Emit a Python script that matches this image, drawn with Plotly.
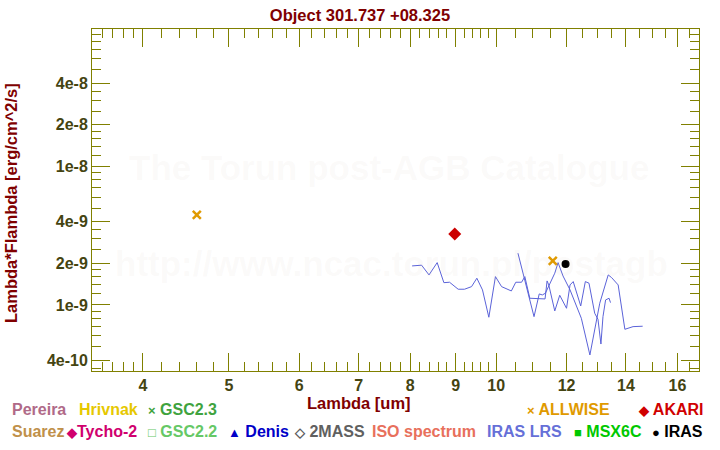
import math
import plotly.graph_objects as go

# ---------------- data ----------------
title_text = "Object 301.737 +08.325"

allwise_wl = [4.60, 11.58]
allwise_flux = [4.47e-9, 2.08e-9]

akari_wl = [8.98]
akari_flux = [3.26e-9]

iras_wl = [11.97]
iras_flux = [1.98e-9]

# IRAS LRS spectrum, blue band
lrs_blue_wl = [8.04, 8.20, 8.24, 8.40, 8.58, 8.73, 8.86, 9.06, 9.21, 9.38, 9.51, 9.65, 9.81,
               9.98, 10.14, 10.40, 10.52, 10.68, 10.77, 10.91, 11.35, 11.41, 11.46, 11.64,
               11.79, 12.00, 12.11, 12.21, 12.29, 12.45, 12.60, 12.72, 12.91, 13.02, 13.12,
               13.19, 13.28, 13.40, 13.45]
lrs_blue_flux = [1.914e-9, 1.947e-9, 1.937e-9, 1.648e-9, 2.022e-9, 1.449e-9, 1.459e-9, 1.299e-9,
                 1.299e-9, 1.356e-9, 1.560e-9, 1.284e-9, 8.15e-10, 1.602e-9, 1.356e-9, 1.262e-9,
                 1.459e-9, 1.459e-9, 1.602e-9, 1.118e-9, 1.105e-9, 1.491e-9, 1.395e-9, 9.05e-10,
                 1.175e-9, 9.46e-10, 1.395e-9, 1.475e-9, 1.299e-9, 9.83e-10, 1.475e-9, 1.436e-9,
                 8.71e-10, 7.88e-10, 5.22e-10, 8.23e-10, 1.087e-9, 1.118e-9, 1.039e-9]

# IRAS LRS spectrum, red band
lrs_red_wl = [10.58, 10.72, 10.86, 11.03, 11.18, 11.27, 11.36, 11.51, 11.64, 11.74, 11.89, 12.11,
              12.31, 12.47, 12.75, 12.91, 13.08, 13.37, 13.49, 13.72, 13.96, 14.26, 14.62]
lrs_red_flux = [2.365e-9, 1.696e-9, 1.215e-9, 8.23e-10, 1.201e-9, 1.181e-9, 1.215e-9, 1.475e-9,
                1.696e-9, 2.022e-9, 1.621e-9, 1.284e-9, 9.72e-10, 8.01e-10, 4.35e-10, 6.60e-10,
                1.029e-9, 1.648e-9, 1.575e-9, 1.395e-9, 6.67e-10, 6.97e-10, 7.02e-10]

x_tickvals = [4, 5, 6, 7, 8, 9, 10, 12, 14, 16]
x_ticktext = ["4", "5", "6", "7", "8", "9", "10", "12", "14", "16"]
x_minor = [3.6, 3.7, 3.8, 3.9, 4.2, 4.4, 4.6, 4.8, 5.2, 5.4, 5.6, 5.8, 6.2, 6.4, 6.6, 6.8,
           7.2, 7.4, 7.6, 7.8, 8.2, 8.4, 8.6, 8.8, 9.2, 9.4, 9.6, 9.8, 10.5, 11, 11.5,
           12.5, 13, 13.5, 14.5, 15, 15.5, 16.5]

y_tickvals = [4e-10, 1e-9, 2e-9, 4e-9, 1e-8, 2e-8, 4e-8]
y_ticktext = ["4e-10", "1e-9", "2e-9", "4e-9", "1e-8", "2e-8", "4e-8"]
y_minor = [3.5e-10, 5e-10, 6e-10, 7e-10, 8e-10, 9e-10,
           1.2e-9, 1.4e-9, 1.6e-9, 1.8e-9, 2.5e-9, 3e-9, 3.5e-9,
           5e-9, 6e-9, 7e-9, 8e-9, 9e-9,
           1.2e-8, 1.4e-8, 1.6e-8, 1.8e-8, 2.5e-8, 3e-8, 3.5e-8,
           5e-8, 6e-8, 7e-8, 8e-8, 9e-8]

legend_row1_names = ["Pereira", "Hrivnak", "GSC2.3", "ALLWISE", "AKARI"]
legend_row1_symbols = ["", "", "\u00d7 ", "\u00d7 ", "\u25c6 "]
legend_row1_colors = ["#b06a88", "#e6c800", "#3fa33f", "#e09a00", "#d00000"]

legend_row2_names = ["Suarez", "Tycho-2", "GSC2.2", "Denis", "2MASS", "ISO spectrum",
                     "IRAS LRS", "MSX6C", "IRAS"]
legend_row2_symbols = ["", "\u25c6", "\u25a1 ", "\u25b2 ", "\u25c7 ", "", "", "\u25a0 ", "\u25cf "]
legend_row2_colors = ["#c0904a", "#d0006e", "#66c866", "#0000c8", "#606060", "#e8705c",
                      "#6670d8", "#00c800", "#000000"]

# ---------------- layout constants ----------------
W, H = 720, 450
ML, MR, MT, MB = 92, 21, 29, 79
PW, PH = W - ML - MR, H - MT - MB

def px(x):
    return (x - ML) / PW

def py(y):
    return (H - MB - y) / PH

row1_x = [10, 77, 146, 525, 636]
row2_x = [10, 64, 146, 226, 292, 370, 485, 572, 650]
row1_y, row2_y = 409, 431

OLIVE = "#808000"
FAM = "Liberation Sans, Arial, sans-serif"
TICKFONT = dict(family=FAM, size=16, color="#444411", weight="bold")
MAROON = "#800000"

fig = go.Figure()

fig.add_trace(go.Scatter(x=lrs_blue_wl, y=lrs_blue_flux, mode="lines",
                         line=dict(color="#5b63d9", width=1), showlegend=False))
fig.add_trace(go.Scatter(x=lrs_red_wl, y=lrs_red_flux, mode="lines",
                         line=dict(color="#5b63d9", width=1), showlegend=False))
fig.add_trace(go.Scatter(x=allwise_wl, y=allwise_flux, mode="markers",
                         marker=dict(symbol="x-thin", size=8, line=dict(color="#e09a00", width=2.5),
                                     color="#e09a00"), showlegend=False))
fig.add_trace(go.Scatter(x=akari_wl, y=akari_flux, mode="markers",
                         marker=dict(symbol="diamond", size=10, color="#cc0000"), showlegend=False))
fig.add_trace(go.Scatter(x=iras_wl, y=iras_flux, mode="markers",
                         marker=dict(symbol="circle", size=8, color="#000000"), showlegend=False))

fig.update_xaxes(type="log", range=[math.log10(3.505), math.log10(16.92)],
                 tickmode="array", tickvals=x_tickvals, ticktext=x_ticktext,
                 ticks="inside", ticklen=18, tickwidth=1, tickcolor=OLIVE,
                 showline=True, linecolor=OLIVE, linewidth=1, mirror="allticks",
                 showgrid=False, zeroline=False, tickfont=TICKFONT,
                 minor=dict(tickmode="array", tickvals=x_minor, ticks="inside",
                            ticklen=9, tickwidth=1, tickcolor=OLIVE, showgrid=False))
fig.update_yaxes(type="log", range=[-9.4772, -7.0065],
                 tickmode="array", tickvals=y_tickvals, ticktext=y_ticktext,
                 ticks="inside", ticklen=18, tickwidth=1, tickcolor=OLIVE,
                 showline=True, linecolor=OLIVE, linewidth=1, mirror="allticks",
                 showgrid=False, zeroline=False, tickfont=TICKFONT,
                 minor=dict(tickmode="array", tickvals=y_minor, ticks="inside",
                            ticklen=9, tickwidth=1, tickcolor=OLIVE, showgrid=False))

annotations = []
WM = dict(family=FAM, size=35, color="rgba(200,185,160,0.07)")

# watermark
annotations.append(dict(text="<b>The Torun post-AGB Catalogue</b>", xref="paper", yref="paper",
                        x=px(389), y=py(167), xanchor="center", yanchor="middle",
                        showarrow=False, font=WM))
annotations.append(dict(text="<b>http://www.ncac.torun.pl/postagb</b>", xref="paper", yref="paper",
                        x=px(391), y=py(263), xanchor="center", yanchor="middle",
                        showarrow=False, font=WM))

# axis titles
annotations.append(dict(text="<b>Lambda [um]</b>", xref="paper", yref="paper",
                        x=px(359), y=py(403), xanchor="center", yanchor="middle", showarrow=False,
                        font=dict(family=FAM, size=16.5, color=MAROON)))
annotations.append(dict(text="<b>Lambda*Flambda [erg/cm^2/s]</b>", xref="paper", yref="paper",
                        x=px(11), y=py(203), xanchor="center", yanchor="middle",
                        showarrow=False, textangle=-90,
                        font=dict(family=FAM, size=16.5, color=MAROON)))

def legend_text(sym, name):
    s = ""
    if sym:
        s += "<span style='font-size:13px'>" + sym.strip() + "</span>" + (" " if sym.endswith(" ") else "")
    return "<b>" + s + name + "</b>"

for name, sym, col, x in zip(legend_row1_names, legend_row1_symbols, legend_row1_colors, row1_x):
    annotations.append(dict(text=legend_text(sym, name), xref="paper", yref="paper",
                            x=px(x), y=py(row1_y), xanchor="left", yanchor="middle", showarrow=False,
                            font=dict(family=FAM, size=16, color=col)))
for name, sym, col, x in zip(legend_row2_names, legend_row2_symbols, legend_row2_colors, row2_x):
    annotations.append(dict(text=legend_text(sym, name), xref="paper", yref="paper",
                            x=px(x), y=py(row2_y), xanchor="left", yanchor="middle", showarrow=False,
                            font=dict(family=FAM, size=16, color=col)))

fig.update_layout(
    width=W, height=H,
    margin=dict(l=ML, r=MR, t=MT, b=MB),
    paper_bgcolor="white", plot_bgcolor="white",
    title=dict(text="<b>" + title_text + "</b>", x=0.5, xref="container", xanchor="center",
               y=1 - 15 / H, yref="container", yanchor="middle",
               font=dict(family=FAM, size=16.5, color=MAROON)),
    annotations=annotations,
    showlegend=False,
)

fig.write_html("out.html")
